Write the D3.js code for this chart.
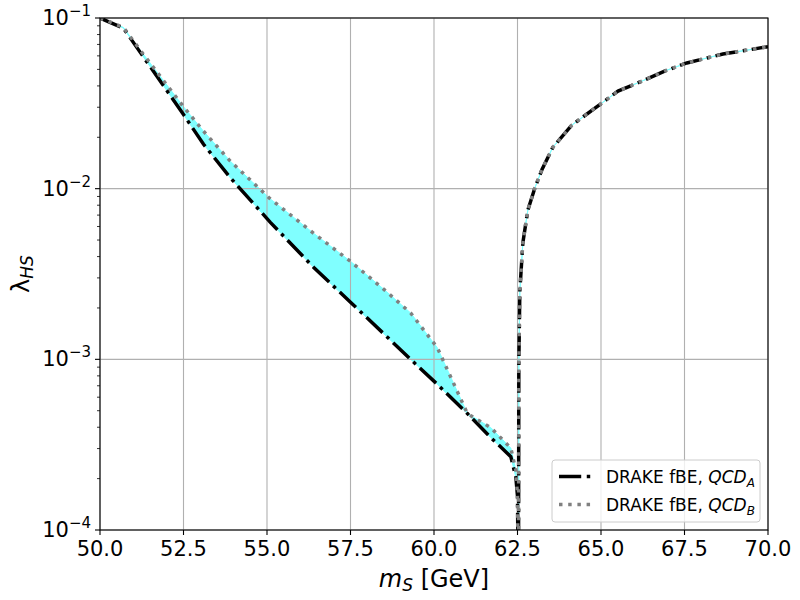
<!DOCTYPE html>
<html>
<head>
<meta charset="utf-8">
<script src="https://cdnjs.cloudflare.com/ajax/libs/d3/7.8.5/d3.min.js"></script>
<style>
  body { margin: 0; background: #fff; }
  svg { font-family: "DejaVu Sans", sans-serif; }
</style>
</head>
<body>
<div id="chart"></div>
<script>
// left branch, below the resonance (m_S < m_h/2)
var massLeft = [50.0, 50.7, 51.2, 52.5, 53.1, 53.9, 55.1, 56.4, 57.5, 58.5, 59.3, 60.1, 61.0, 61.7, 62.3, 62.45, 62.5, 62.52];
var lambdaA_left = [0.1, 0.0873, 0.0631, 0.0272, 0.0182, 0.0116, 0.00635, 0.00345, 0.00216, 0.00141, 0.00100, 0.000714, 0.000481, 0.000348, 0.000269, 0.000204, 0.000158, 0.00005];
var lambdaB_left = [0.1, 0.0881, 0.0650, 0.0302, 0.0217, 0.0145, 0.00871, 0.00547, 0.00375, 0.00257, 0.00187, 0.00117, 0.000481, 0.000398, 0.000302, 0.000224, 0.000158, 0.00005];

// right branch, both runs agree here
var massRight = [62.53, 62.54, 62.57, 62.66, 62.81, 63.02, 63.23, 63.56, 64.13, 65.03, 65.51, 66.17, 66.98, 67.57, 68.65, 70.0];
var lambdaRight = [0.00005, 0.00095, 0.00251, 0.00481, 0.0075, 0.0101, 0.0129, 0.0175, 0.0236, 0.0318, 0.0373, 0.0422, 0.0495, 0.0545, 0.0615, 0.0679];

var xTicks = [50, 52.5, 55, 57.5, 60, 62.5, 65, 67.5, 70];
var yTicks = [1e-4, 1e-3, 1e-2, 1e-1];
var yTickExponents = ["\u22124", "\u22123", "\u22122", "\u22121"];
var legendSubscripts = ["A", "B"];

var width = 800, height = 600;
var margin = {top: 18, right: 32, bottom: 70, left: 100};
var plotW = width - margin.left - margin.right,
    plotH = height - margin.top - margin.bottom;

var rows = [];
massLeft.forEach(function(m, i) {
  rows.push({m: m, a: lambdaA_left[i], b: lambdaB_left[i]});
});
massRight.forEach(function(m, i) {
  rows.push({m: m, a: lambdaRight[i], b: lambdaRight[i]});
});

var x = d3.scaleLinear().domain([50, 70]).range([0, plotW]);
var y = d3.scaleLog().domain([1e-4, 1e-1]).range([plotH, 0]);

var svg = d3.select("#chart").append("svg")
  .attr("width", width)
  .attr("height", height);

svg.append("defs").append("clipPath")
  .attr("id", "plot-clip")
  .append("rect")
  .attr("width", plotW)
  .attr("height", plotH);

var g = svg.append("g")
  .attr("transform", "translate(" + margin.left + "," + margin.top + ")");

//FILL between the two runs
var area = d3.area()
  .x(function(d) { return x(d.m); })
  .y0(function(d) { return y(d.a); })
  .y1(function(d) { return y(d.b); });

g.append("path")
  .datum(rows)
  .attr("clip-path", "url(#plot-clip)")
  .attr("d", area)
  .attr("fill", "#80ffff")
  .attr("stroke", "#80ffff")
  .attr("stroke-width", 1);

//GRID
g.selectAll(".xgrid")
  .data(xTicks)
  .enter().append("line")
  .attr("class", "xgrid")
  .attr("x1", function(d) { return x(d); })
  .attr("x2", function(d) { return x(d); })
  .attr("y1", 0)
  .attr("y2", plotH)
  .attr("stroke", "#b0b0b0")
  .attr("stroke-width", 1.1);

g.selectAll(".ygrid")
  .data(yTicks)
  .enter().append("line")
  .attr("class", "ygrid")
  .attr("x1", 0)
  .attr("x2", plotW)
  .attr("y1", function(d) { return y(d); })
  .attr("y2", function(d) { return y(d); })
  .attr("stroke", "#b0b0b0")
  .attr("stroke-width", 1.1);

//LINES
var lineA = d3.line()
  .x(function(d) { return x(d.m); })
  .y(function(d) { return y(d.a); });
var lineB = d3.line()
  .x(function(d) { return x(d.m); })
  .y(function(d) { return y(d.b); });

// 2.5pt wide lines, matplotlib dash patterns scaled by width
var lw = 3.47;
var dashA = [6.4, 1.6, 1, 1.6].map(function(v) { return v * lw; }).join(",");
var dashB = [1, 1.65].map(function(v) { return v * lw; }).join(",");

g.append("path")
  .datum(rows)
  .attr("clip-path", "url(#plot-clip)")
  .attr("d", lineA)
  .attr("fill", "none")
  .attr("stroke", "black")
  .attr("stroke-width", lw)
  .attr("stroke-dasharray", dashA);

g.append("path")
  .datum(rows)
  .attr("clip-path", "url(#plot-clip)")
  .attr("d", lineB)
  .attr("fill", "none")
  .attr("stroke", "gray")
  .attr("stroke-width", lw)
  .attr("stroke-dasharray", dashB);

//SPINES
g.append("rect")
  .attr("width", plotW)
  .attr("height", plotH)
  .attr("fill", "none")
  .attr("stroke", "black")
  .attr("stroke-width", 1.1);

//X AXIS ticks
g.selectAll(".xtick")
  .data(xTicks)
  .enter().append("line")
  .attr("x1", function(d) { return x(d); })
  .attr("x2", function(d) { return x(d); })
  .attr("y1", plotH)
  .attr("y2", plotH + 5)
  .attr("stroke", "black")
  .attr("stroke-width", 1.1);

g.selectAll(".xlabel")
  .data(xTicks)
  .enter().append("text")
  .attr("x", function(d) { return x(d); })
  .attr("y", plotH + 26)
  .attr("text-anchor", "middle")
  .attr("font-size", 21)
  .text(function(d) { return d3.format(".1f")(d); });

//Y AXIS ticks (log)
var minorTicks = [];
[1e-4, 1e-3, 1e-2].forEach(function(dec) {
  for (var k = 2; k <= 9; k++) minorTicks.push(dec * k);
});

g.selectAll(".yminor")
  .data(minorTicks)
  .enter().append("line")
  .attr("x1", -3)
  .attr("x2", 0)
  .attr("y1", function(d) { return y(d); })
  .attr("y2", function(d) { return y(d); })
  .attr("stroke", "black")
  .attr("stroke-width", 0.8);

g.selectAll(".ytick")
  .data(yTicks)
  .enter().append("line")
  .attr("x1", -5)
  .attr("x2", 0)
  .attr("y1", function(d) { return y(d); })
  .attr("y2", function(d) { return y(d); })
  .attr("stroke", "black")
  .attr("stroke-width", 1.1);

var ylab = g.selectAll(".ylabel")
  .data(yTicks)
  .enter().append("text")
  .attr("x", -9)
  .attr("y", function(d) { return y(d) + 7; })
  .attr("text-anchor", "end")
  .attr("font-size", 21);
ylab.append("tspan").text("10");
ylab.append("tspan")
  .attr("dy", -9)
  .attr("font-size", 15)
  .text(function(d, i) { return yTickExponents[i]; });

//AXIS LABELS
var xTitle = svg.append("text")
  .attr("x", margin.left + plotW / 2)
  .attr("y", 587)
  .attr("text-anchor", "middle")
  .attr("font-size", 24);
xTitle.append("tspan").attr("font-style", "italic").text("m");
xTitle.append("tspan").attr("font-style", "italic").attr("font-size", 17).attr("dy", 4).text("S");
xTitle.append("tspan").attr("dy", -4).text(" [GeV]");

var yTitle = svg.append("text")
  .attr("transform", "translate(29," + (margin.top + plotH / 2) + ") rotate(-90)")
  .attr("text-anchor", "middle")
  .attr("font-size", 24);
yTitle.append("tspan").text("\u03bb");
yTitle.append("tspan").attr("font-style", "italic").attr("font-size", 17).attr("dy", 4).text("HS");

//LEGEND
var legW = 208, legH = 62;
var legend = g.append("g")
  .attr("transform", "translate(" + (plotW - 8 - legW) + "," + (plotH - 8 - legH) + ")");

legend.append("rect")
  .attr("width", legW)
  .attr("height", legH)
  .attr("rx", 3)
  .attr("fill", "white")
  .attr("fill-opacity", 0.8)
  .attr("stroke", "#cccccc")
  .attr("stroke-width", 1);

var entries = legend.selectAll(".entry")
  .data(legendSubscripts)
  .enter().append("g")
  .attr("class", "entry")
  .attr("transform", function(d, i) { return "translate(0," + (16.5 + i * 28) + ")"; });

entries.append("line")
  .attr("x1", 7)
  .attr("x2", 40)
  .attr("y1", 0)
  .attr("y2", 0)
  .attr("stroke", function(d, i) { return i === 0 ? "black" : "gray"; })
  .attr("stroke-width", lw)
  .attr("stroke-dasharray", function(d, i) { return i === 0 ? dashA : dashB; });

var legText = entries.append("text")
  .attr("x", 54)
  .attr("y", 6)
  .attr("font-size", 17);
legText.append("tspan").text("DRAKE fBE, ");
legText.append("tspan").attr("font-style", "italic").text("QCD");
legText.append("tspan")
  .attr("font-style", "italic")
  .attr("font-size", 12)
  .attr("dy", 4)
  .text(function(d) { return d; });
</script>
</body>
</html>
